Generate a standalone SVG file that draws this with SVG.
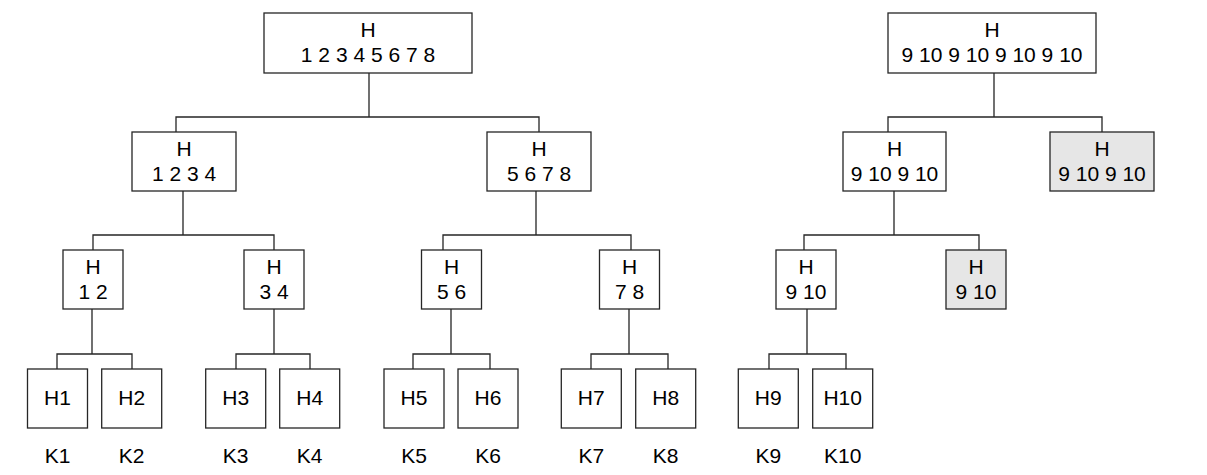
<svg xmlns="http://www.w3.org/2000/svg" width="1207" height="475" viewBox="0 0 1207 475">
<style>
.b{fill:#fff;stroke:#262626;stroke-width:1.3}
.g{fill:#e6e6e6;stroke:#262626;stroke-width:1.3}
.c{fill:none;stroke:#262626;stroke-width:1.3}
text{font-family:"Liberation Sans",Arial,sans-serif;font-size:21px;fill:#000;text-anchor:middle}
</style>
<rect width="1207" height="475" fill="#fff"/>
<g id="connectors" class="c">
<path d="M369 73V117M176 132V117H539V132"/>
<path d="M183 191V235M93 250V235H274V250"/>
<path d="M536 191V235M443 250V235H631V250"/>
<path d="M92 309V354M57 369V354H132V369"/>
<path d="M274 309V354M236 369V354H310V369"/>
<path d="M451 309V354M413 369V354H490V369"/>
<path d="M629 309V354M591 369V354H668V369"/>
<path d="M994 73V117M888 132V117H1102V132"/>
<path d="M894 191V235M804 250V235H979V250"/>
<path d="M807 309V354M769 369V354H846V369"/>
</g>
<g id="n_root_l"><rect class="b" x="264" y="13" width="208" height="60"/><text x="368" y="37">H</text><text x="368" y="62">1 2 3 4 5 6 7 8</text></g>
<g id="n_1234"><rect class="b" x="132" y="132" width="104" height="59"/><text x="184" y="156">H</text><text x="184" y="181">1 2 3 4</text></g>
<g id="n_5678"><rect class="b" x="487" y="132" width="104" height="59"/><text x="539" y="156">H</text><text x="539" y="181">5 6 7 8</text></g>
<g id="n_12"><rect class="b" x="63" y="250" width="60" height="59"/><text x="93" y="274">H</text><text x="93" y="299">1 2</text></g>
<g id="n_34"><rect class="b" x="244" y="250" width="60" height="59"/><text x="274" y="274">H</text><text x="274" y="299">3 4</text></g>
<g id="n_56"><rect class="b" x="421.5" y="250" width="60" height="59"/><text x="451.5" y="274">H</text><text x="451.5" y="299">5 6</text></g>
<g id="n_78"><rect class="b" x="599.5" y="250" width="60" height="59"/><text x="629.5" y="274">H</text><text x="629.5" y="299">7 8</text></g>
<g id="n_h1"><rect class="b" x="27.5" y="369" width="60" height="59"/><text x="57.5" y="405">H1</text><text x="57.5" y="463">K1</text></g>
<g id="n_h2"><rect class="b" x="101.7" y="369" width="60" height="59"/><text x="131.7" y="405">H2</text><text x="131.7" y="463">K2</text></g>
<g id="n_h3"><rect class="b" x="205.7" y="369" width="60" height="59"/><text x="235.7" y="405">H3</text><text x="235.7" y="463">K3</text></g>
<g id="n_h4"><rect class="b" x="279.7" y="369" width="60" height="59"/><text x="309.7" y="405">H4</text><text x="309.7" y="463">K4</text></g>
<g id="n_h5"><rect class="b" x="384" y="369" width="60" height="59"/><text x="414" y="405">H5</text><text x="414" y="463">K5</text></g>
<g id="n_h6"><rect class="b" x="458" y="369" width="60" height="59"/><text x="488" y="405">H6</text><text x="488" y="463">K6</text></g>
<g id="n_h7"><rect class="b" x="561.3" y="369" width="60" height="59"/><text x="591.3" y="405">H7</text><text x="591.3" y="463">K7</text></g>
<g id="n_h8"><rect class="b" x="635.7" y="369" width="60" height="59"/><text x="665.7" y="405">H8</text><text x="665.7" y="463">K8</text></g>
<g id="n_root_r"><rect class="b" x="888" y="13" width="208" height="60"/><text x="992" y="37">H</text><text x="992" y="62">9 10 9 10 9 10 9 10</text></g>
<g id="n_9109_a"><rect class="b" x="843" y="132" width="103" height="59"/><text x="894.5" y="156">H</text><text x="894.5" y="181">9 10 9 10</text></g>
<g id="n_9109_b"><rect class="g" x="1050" y="132" width="104" height="59"/><text x="1102" y="156">H</text><text x="1102" y="181">9 10 9 10</text></g>
<g id="n_910_a"><rect class="b" x="776" y="250" width="60" height="59"/><text x="806" y="274">H</text><text x="806" y="299">9 10</text></g>
<g id="n_910_b"><rect class="g" x="946" y="250" width="60" height="59"/><text x="976" y="274">H</text><text x="976" y="299">9 10</text></g>
<g id="n_h9"><rect class="b" x="738.3" y="369" width="60" height="59"/><text x="768.3" y="405">H9</text><text x="768.3" y="463">K9</text></g>
<g id="n_h10"><rect class="b" x="812.7" y="369" width="60" height="59"/><text x="842.7" y="405">H10</text><text x="842.7" y="463">K10</text></g>
</svg>
